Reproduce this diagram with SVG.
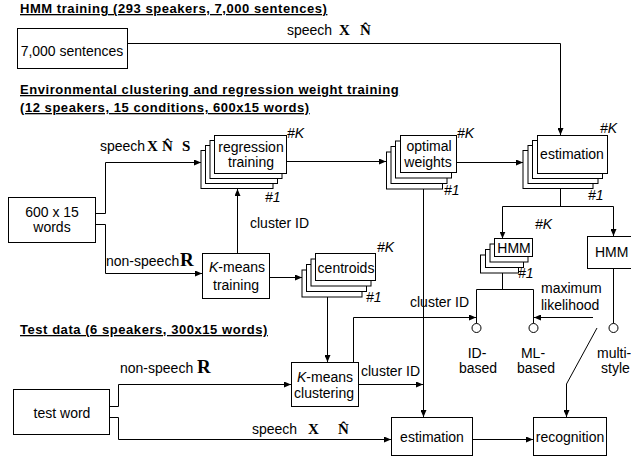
<svg xmlns="http://www.w3.org/2000/svg" width="631" height="461" viewBox="0 0 631 461">
<style>
text{font-family:"Liberation Sans",Arial,sans-serif;font-size:14px;fill:#000}
.h{font-weight:bold;font-size:13px;letter-spacing:0.55px;text-decoration:underline}
.c{text-anchor:middle}
.it{font-style:italic;font-size:14px}
.m{font-family:"Liberation Serif","Times New Roman",serif;font-weight:bold;font-size:15px}
.R{font-size:19px}
rect,circle{fill:#fff;stroke:#000;stroke-width:1}
.ln path{fill:none;stroke:#000;stroke-width:1}
.a{marker-end:url(#arr)}
</style>
<defs>
<marker id="arr" markerWidth="7" markerHeight="6" refX="7" refY="3" orient="auto" markerUnits="userSpaceOnUse">
<path d="M0,0 L7,3 L0,6 z" fill="#000"/>
</marker>
</defs>

<text class="h" x="20" y="13">HMM training (293 speakers, 7,000 sentences)</text>
<text class="h" x="20" y="94">Environmental clustering and regression weight training</text>
<text class="h" x="20" y="112">(12 speakers, 15 conditions, 600x15 words)</text>
<text class="h" x="20" y="334">Test data (6 speakers, 300x15 words)</text>

<g class="ln" id="connectors">
<path d="M127,43.5 H560.5 V135" class="a"/>
<path d="M95,213.5 H105.5 V162.5 H201" class="a"/>
<path d="M95,224.5 H105.5 V273.5 H202" class="a"/>
<path d="M286.5,161.5 H386" class="a"/>
<path d="M456.5,162.5 H523" class="a"/>
<path d="M237.5,253 V189" class="a"/>
<path d="M269,277.5 H302" class="a"/>
<path d="M327.5,297 V362" class="a"/>
<path d="M560.5,189 V206.5"/>
<path d="M502.5,206.5 V238.5" class="a"/>
<path d="M502.5,206.5 H613.5 V236" class="a"/>
<path d="M502.5,273 V289.5"/>
<path d="M476.5,323.5 V289.5 H533.5 V323.5"/>
<path d="M613.5,268 V323.5"/>
<path d="M353.5,362 V317.5 H476" class="a"/>
<path d="M593,317.5 H534" class="a"/>
<path d="M423.5,189 V417" class="a"/>
<path d="M358,384.5 H423" class="a"/>
<path d="M109,406.5 H118.5 V384.5 H291" class="a"/>
<path d="M109,417.5 H118.5 V439.5 H391" class="a"/>
<path d="M472,439.5 H533" class="a"/>
<path d="M597,328 L566.5,384 V417" class="a"/>
</g>

<text x="287" y="35">speech</text>
<text class="m" x="339" y="35">X</text>
<text class="m" x="360" y="35">N&#x302;</text>

<text x="100" y="151">speech</text>
<text class="m" x="147" y="151">X</text>
<text class="m" x="162" y="151">N&#x302;</text>
<text class="m" x="182" y="151">S</text>

<text x="106" y="266">non-speech</text>
<text class="m R" x="180" y="266">R</text>
<text x="250" y="228">cluster ID</text>

<text x="120" y="373">non-speech</text>
<text class="m R" x="197" y="373">R</text>
<text x="252" y="434">speech</text>
<text class="m" x="308" y="434">X</text>
<text class="m" x="338" y="434">N&#x302;</text>

<text x="410" y="307">cluster ID</text>
<text x="361" y="376">cluster ID</text>
<text x="541" y="293">maximum</text>
<text x="541" y="310">likelihood</text>

<g id="n-sentences">
<rect x="17.5" y="28.5" width="110" height="40"/>
<text class="c" x="72" y="56">7,000 sentences</text>
</g>

<g id="n-words">
<rect x="8.5" y="197.5" width="87" height="45"/>
<text class="c" x="52" y="217">600 x 15</text>
<text class="c" x="52" y="232">words</text>
</g>

<g id="n-regression">
<rect x="201" y="150.5" width="72" height="38"/>
<rect x="205.5" y="145.5" width="72" height="38"/>
<rect x="210" y="140.5" width="72" height="38"/>
<rect x="214.5" y="135.5" width="72" height="38"/>
<text class="c" x="251" y="152">regression</text>
<text class="c" x="251" y="167">training</text>
<text class="it" x="287" y="138">#K</text>
<text class="it" x="265" y="202">#1</text>
</g>

<g id="n-optimal">
<rect x="386.5" y="152" width="56" height="37"/>
<rect x="391" y="146.5" width="56" height="37"/>
<rect x="395.5" y="141" width="56" height="37"/>
<rect x="400.5" y="135.5" width="56" height="37"/>
<text class="c" x="429" y="151">optimal</text>
<text class="c" x="428" y="167">weights</text>
<text class="it" x="457" y="138">#K</text>
<text class="it" x="444" y="195">#1</text>
</g>

<g id="n-estimation-k">
<rect x="523" y="150.5" width="70" height="38"/>
<rect x="528" y="145.5" width="70" height="38"/>
<rect x="532.5" y="140.5" width="70" height="38"/>
<rect x="537.5" y="135.5" width="70" height="38"/>
<text class="c" x="572" y="159">estimation</text>
<text class="it" x="600" y="133">#K</text>
<text class="it" x="588" y="200">#1</text>
</g>

<g id="n-hmm-k">
<rect x="480.5" y="255" width="38" height="18"/>
<rect x="485.5" y="249.5" width="38" height="18"/>
<rect x="490" y="244" width="38" height="18"/>
<rect x="494.5" y="238.5" width="38" height="18"/>
<text class="c" x="514" y="253">HMM</text>
<text class="it" x="535" y="229">#K</text>
<text class="it" x="518" y="278">#1</text>
</g>

<g id="n-hmm">
<rect x="587.5" y="236.5" width="50" height="32"/>
<text x="595" y="257">HMM</text>
</g>

<g id="n-kmeans-training">
<rect x="202.5" y="253.5" width="67" height="45"/>
<text class="c" x="237" y="272"><tspan font-style="italic">K</tspan>-means</text>
<text class="c" x="236" y="290">training</text>
</g>

<g id="n-centroids">
<rect x="302" y="270" width="60" height="27"/>
<rect x="306.5" y="264.5" width="60" height="27"/>
<rect x="311" y="259" width="60" height="27"/>
<rect x="315.5" y="253.5" width="60" height="27"/>
<text class="c" x="346" y="273">centroids</text>
<text class="it" x="377" y="252">#K</text>
<text class="it" x="366" y="302">#1</text>
</g>

<g id="n-id">
<circle cx="476.5" cy="328" r="4.5"/>
<text class="c" x="477" y="358">ID-</text>
<text class="c" x="478" y="373">based</text>
</g>
<g id="n-ml">
<circle cx="533.5" cy="328" r="4.5"/>
<text class="c" x="533" y="358">ML-</text>
<text class="c" x="536" y="373">based</text>
</g>
<g id="n-multi">
<circle cx="613.5" cy="328" r="4.5"/>
<text x="597" y="358" font-size="13">multi-</text>
<text x="601" y="373">style</text>
</g>

<g id="n-kmeans-clustering">
<rect x="291.5" y="362.5" width="67" height="44"/>
<text class="c" x="325" y="382"><tspan font-style="italic">K</tspan>-means</text>
<text class="c" x="324" y="398">clustering</text>
</g>

<g id="n-testword">
<rect x="13.5" y="389.5" width="96" height="45"/>
<text class="c" x="62" y="418">test word</text>
</g>

<g id="n-estimation">
<rect x="391.5" y="417.5" width="81" height="38"/>
<text class="c" x="432" y="442">estimation</text>
</g>

<g id="n-recognition">
<rect x="533.5" y="417.5" width="73" height="38"/>
<text class="c" x="570" y="442">recognition</text>
</g>
</svg>
